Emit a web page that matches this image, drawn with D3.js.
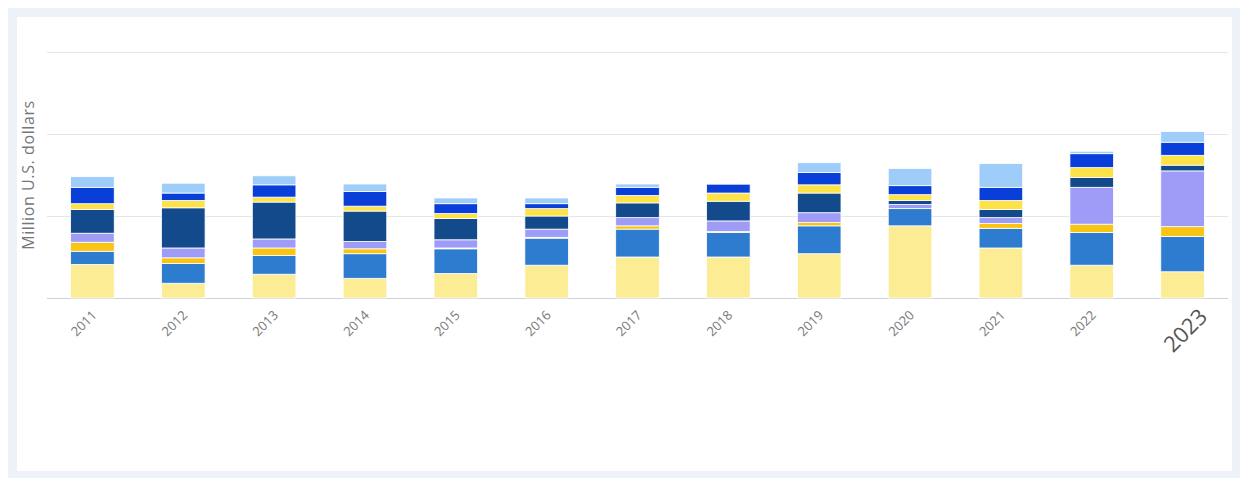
<!DOCTYPE html>
<html>
<head>
<meta charset="utf-8">
<script src="https://cdn.jsdelivr.net/npm/d3@7"></script>
<style>
  body { margin: 0; background: #fff; }
  svg { display: block; font-family: "Open Sans", sans-serif; }
</style>
</head>
<body>
<div id="container"></div>
<script>
const years = ["2011", "2012", "2013", "2014", "2015", "2016", "2017", "2018", "2019", "2020", "2021", "2022", "2023"];

// stacked from the bottom up
const seriesA = [41, 18, 29, 24, 30, 40, 50, 50, 54, 88, 61, 40, 32];
const seriesB = [16, 24, 23, 30, 30, 33, 34, 30, 34, 21, 24, 40, 43];
const seriesC = [11, 7, 9, 6, 1, 1, 4, 1, 4, 0, 6, 10, 12];
const seriesD = [11, 12, 11, 9, 10, 10, 10, 13, 12, 5, 7, 45, 68];
const seriesE = [29, 49, 45, 37, 26, 16, 18, 24, 24, 5, 10, 12, 7];
const seriesF = [7, 9, 6, 6, 6, 9, 9, 10, 10, 7, 11, 12, 12];
const seriesG = [20, 9, 15, 18, 12, 6, 10, 11, 15, 11, 16, 17, 16];
const seriesH = [13, 12, 11, 9, 7, 7, 4, 1, 12, 21, 29, 3, 13];

const gridTicks = [0, 100, 200, 300];

const allSeries = [seriesA, seriesB, seriesC, seriesD, seriesE, seriesF, seriesG, seriesH];
const colors = ["#fcec93", "#2e7ccf", "#f8c513", "#9f9cf8", "#124a8b", "#fde347", "#0a3ed8", "#9dcdf8"];

const w = 1245;
const h = 481;

const svg = d3
  .select("#container")
  .append("svg")
  .attr("width", w)
  .attr("height", h);

// frame
svg.append("rect").attr("x", 8).attr("y", 8).attr("width", 1232).attr("height", 470).attr("fill", "#edf2f9");
svg.append("rect").attr("x", 17).attr("y", 17).attr("width", 1215).attr("height", 454).attr("fill", "#fff");

const xScale = d3
  .scaleBand()
  .domain(years)
  .range([47, 1228])
  .paddingInner(0.52)
  .paddingOuter(0.26);

const yScale = d3.scaleLinear().domain([0, 300]).range([298, 52]);

// gridlines
svg
  .append("g")
  .selectAll("line")
  .data(gridTicks)
  .enter()
  .append("line")
  .attr("x1", 47)
  .attr("x2", 1228)
  .attr("y1", (d) => Math.round(yScale(d)) + 0.5)
  .attr("y2", (d) => Math.round(yScale(d)) + 0.5)
  .attr("stroke", (d) => (d === 0 ? "#ccd2dc" : "#e6e6e6"))
  .attr("stroke-width", 1);

// stack
const table = years.map((y, i) => {
  const row = { year: y };
  allSeries.forEach((s, k) => (row["s" + k] = s[i]));
  return row;
});
const keys = allSeries.map((s, k) => "s" + k);
const stacked = d3.stack().keys(keys)(table);

svg
  .append("g")
  .selectAll("g")
  .data(stacked)
  .enter()
  .append("g")
  .attr("fill", (d, i) => colors[i])
  .selectAll("rect")
  .data((d) => d.filter((p) => p[1] - p[0] > 0))
  .enter()
  .append("rect")
  .attr("x", (d) => xScale(d.data.year))
  .attr("width", xScale.bandwidth())
  .attr("y", (d) => yScale(d[1]))
  .attr("height", (d) => yScale(d[0]) - yScale(d[1]))
  .attr("stroke", "#fff")
  .attr("stroke-width", 0.8);

// x labels
svg
  .append("g")
  .selectAll("text")
  .data(years)
  .enter()
  .append("text")
  .attr("text-anchor", "end")
  .attr("fill", (d) => (d === "2023" ? "#555" : "#777"))
  .attr("font-size", (d) => (d === "2023" ? 22 : 13))
  .attr("transform", (d) => {
    const cx = xScale(d) + xScale.bandwidth() / 2;
    return d === "2023"
      ? `translate(${cx + 26}, ${318}) rotate(-45)`
      : `translate(${cx + 5}, ${316}) rotate(-45)`;
  })
  .text((d) => d);

// y title
svg
  .append("text")
  .attr("text-anchor", "middle")
  .attr("transform", `translate(${34}, ${175}) rotate(-90)`)
  .attr("fill", "#777")
  .attr("font-size", 16)
  .attr("letter-spacing", 0.6)
  .text("Million U.S. dollars");
</script>
</body>
</html>
